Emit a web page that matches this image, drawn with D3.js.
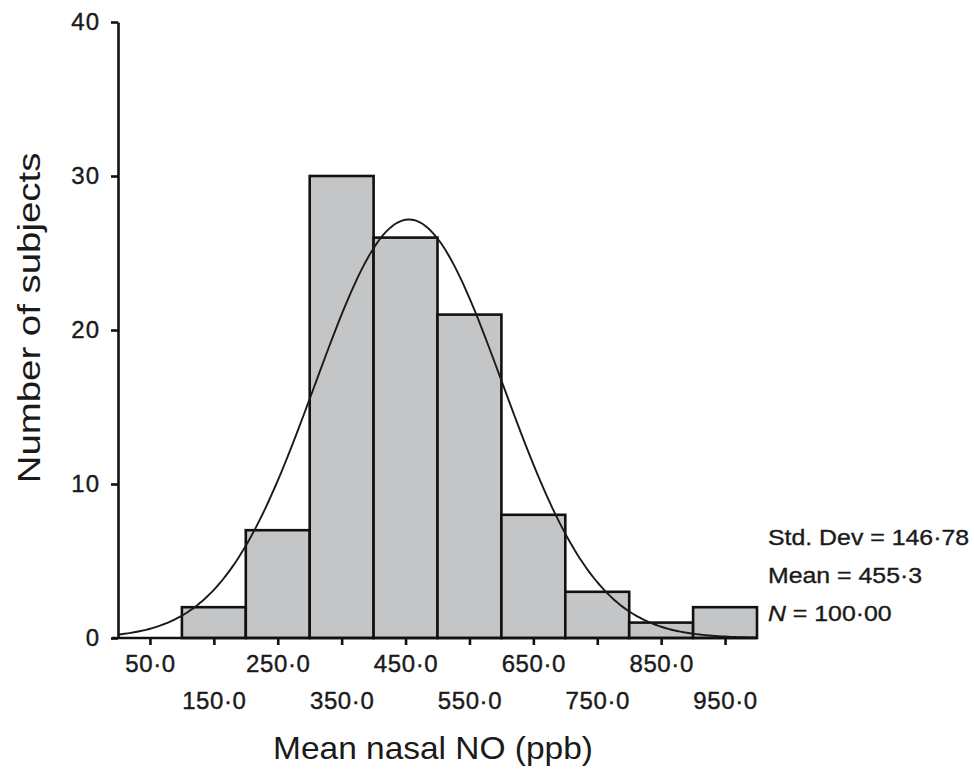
<!DOCTYPE html>
<html>
<head>
<meta charset="utf-8">
<script src="https://cdn.jsdelivr.net/npm/d3@7"></script>
<style>
  html, body { margin: 0; padding: 0; background: #fff; }
  svg { display: block; }
  text { font-family: "Liberation Sans", Arial, Helvetica, sans-serif; fill: #1a1a1a; }
</style>
</head>
<body>
<svg id="chart" width="974" height="769"></svg>
<script>
// ---- data ----
const binCenters = [150, 250, 350, 450, 550, 650, 750, 850, 950];
const counts = [2, 7, 30, 26, 21, 8, 3, 1, 2];
const binWidth = 100;
const xTickValues = [50, 150, 250, 350, 450, 550, 650, 750, 850, 950];
const yTickValues = [0, 10, 20, 30, 40];
const statLabels = ["Std. Dev", "Mean", "N"];
const statValues = ["146·78", "455·3", "100·00"];
const stdDev = 146.78;
const mean = 455.3;
const nTotal = 100;

// ---- layout ----
const svg = d3.select("#chart");
const x = d3.scaleLinear().domain([0, 1000]).range([118, 757]);
const y = d3.scaleLinear().domain([0, 40]).range([638, 22]);

const fmt = v => d3.format(".1f")(v).replace(".", "·");

// bars
const bars = binCenters.map((c, i) => ({ c, n: counts[i] }));
svg.append("g").selectAll("rect").data(bars).join("rect")
  .attr("x", d => x(d.c - binWidth / 2))
  .attr("y", d => y(d.n))
  .attr("width", d => x(d.c + binWidth / 2) - x(d.c - binWidth / 2))
  .attr("height", d => y(0) - y(d.n))
  .attr("fill", "#c3c5c6")
  .attr("stroke", "#111")
  .attr("stroke-width", 2.6);

// normal curve fitted with the stated mean / sd / N
const curvePts = d3.range(0, 1000.1, 5).map(v => [v,
  nTotal * binWidth / (stdDev * Math.sqrt(2 * Math.PI)) *
  Math.exp(-0.5 * Math.pow((v - mean) / stdDev, 2))]);
svg.append("path")
  .datum(curvePts)
  .attr("fill", "none")
  .attr("stroke", "#1a1a1a")
  .attr("stroke-width", 1.9)
  .attr("d", d3.line().x(d => x(d[0])).y(d => y(d[1])).curve(d3.curveBasis));

// y axis
const yAxis = svg.append("g")
  .attr("transform", `translate(${x(0)},0)`)
  .call(d3.axisLeft(y).tickValues(yTickValues).tickSize(7).tickSizeOuter(0).tickPadding(11));
yAxis.select(".domain").attr("stroke", "#111").attr("stroke-width", 2.6);
yAxis.selectAll(".tick line").attr("stroke", "#111").attr("stroke-width", 2.6);
yAxis.selectAll(".tick text")
  .attr("font-size", 24)
  .attr("letter-spacing", 1)
  .attr("font-family", "Liberation Sans, Arial, sans-serif")
  .attr("fill", "#1a1a1a")
  .attr("stroke", "#1a1a1a").attr("stroke-width", 0.4);

// x axis
const xAxis = svg.append("g")
  .attr("transform", `translate(0,${y(0)})`)
  .call(d3.axisBottom(x).tickValues(xTickValues).tickSize(7).tickSizeOuter(0).tickFormat(fmt));
xAxis.select(".domain").attr("stroke", "#111").attr("stroke-width", 2.6)
  .attr("d", `M${x(0) - 6},0H${x(1000)}`);
xAxis.selectAll(".tick line").attr("stroke", "#111").attr("stroke-width", 2.6);
xAxis.selectAll(".tick text")
  .attr("font-size", 24)
  .attr("letter-spacing", 0.6)
  .attr("font-family", "Liberation Sans, Arial, sans-serif")
  .attr("fill", "#1a1a1a")
  .attr("stroke", "#1a1a1a").attr("stroke-width", 0.4)
  .attr("dy", null)
  .attr("y", (d, i) => i % 2 === 0 ? 34 : 71);

// axis titles (horizontally widened like the source)
svg.append("text")
  .attr("transform", "translate(433,759) scale(1.08,1)")
  .attr("text-anchor", "middle")
  .attr("font-size", 31)
  .text("Mean nasal NO (ppb)");

svg.append("text")
  .attr("transform", "translate(40,318) rotate(-90) scale(1.2,1)")
  .attr("text-anchor", "middle")
  .attr("font-size", 32)
  .text("Number of subjects");

// stats
const statBaselines = [545, 583, 621];
const stats = svg.append("g").attr("font-size", 22);
statLabels.forEach((lab, i) => {
  const t = stats.append("text")
    .attr("transform", `translate(768,${statBaselines[i]}) scale(1.13,1)`)
    .attr("stroke", "#1a1a1a").attr("stroke-width", 0.35);
  t.append("tspan").attr("font-style", lab === "N" ? "italic" : "normal").text(lab);
  t.append("tspan").text(" = " + statValues[i]);
});
</script>
</body>
</html>
